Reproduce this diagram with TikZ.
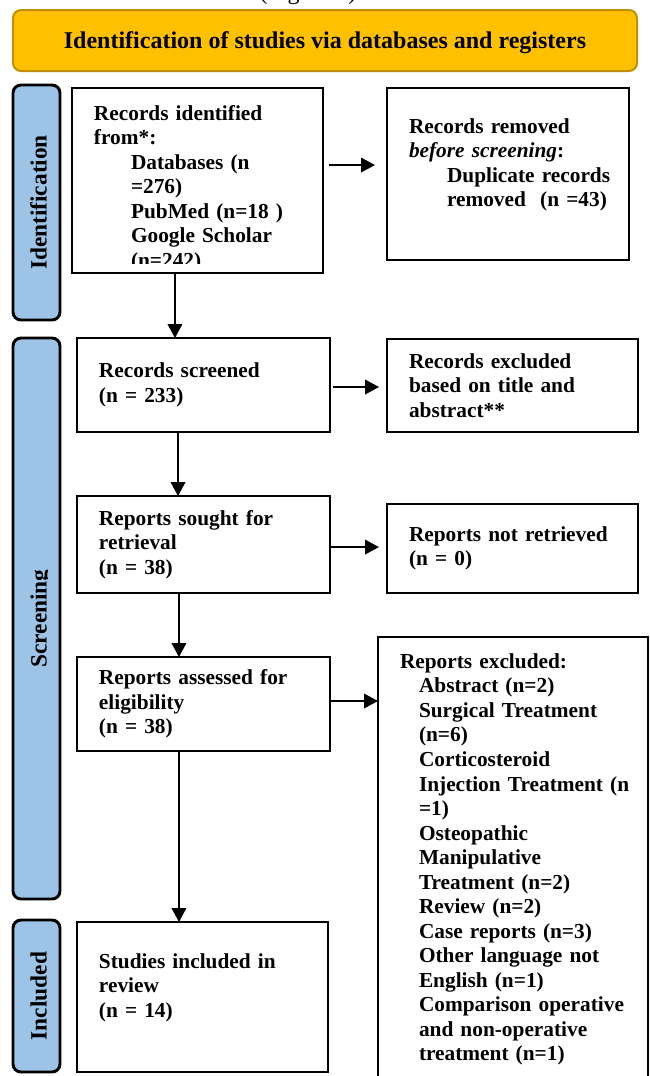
\documentclass[tikz,border=0pt]{standalone}
\usepackage{fontspec}
\setmainfont{Liberation Serif}
\usetikzlibrary{arrows.meta}
\definecolor{titlegold}{HTML}{FFC000}
\definecolor{titleedge}{HTML}{BF9000}
\definecolor{barblue}{HTML}{9DC3E6}

\begin{document}
\begin{tikzpicture}[x=0.75pt, y=0.75pt,
    flowbox/.style={draw, line width=2.2pt, inner xsep=0pt, outer sep=0pt,
      font={\fontsize{16}{18.4}\selectfont\bfseries},
      execute at begin node={\leftskip=16.5pt\rightskip=-25pt plus 1fil\parfillskip=0pt plus 1fil\relax}},
    sidebar/.style={draw, fill=barblue, line width=2.2pt, rounded corners=6pt,
      minimum width=35.25pt, inner sep=0pt, outer sep=0pt},
    sidetext/.style={rotate=90, anchor=base, inner sep=0pt,
      font={\fontsize{17.5}{21}\selectfont\bfseries}},
    flowarrow/.style={line width=1.1pt, -{Triangle[width=11pt,length=10.5pt]}}]
    \useasboundingbox (0,0) rectangle (650,-1076);

    \node[anchor=base, inner sep=0pt, font={\fontsize{18}{21}\selectfont}] (figref) at (308,1) {(Figure 1)};
    \node[draw=titleedge, fill=titlegold, line width=1.5pt, rounded corners=6pt,
      minimum width=468pt, minimum height=45.75pt, text depth=0pt,
      font={\fontsize{18}{21}\selectfont\bfseries}] (title) at (325,-40.5)
      {Identification of studies via databases and registers};

    \node[sidebar, minimum height=176.25pt] (identbar) at (36.5,-202.5) {};
    \node[sidetext] (identtxt) at ([xshift=7.5pt]identbar.center) {Identification};
    \node[sidebar, minimum height=420.75pt] (screenbar) at (36.5,-618.5) {};
    \begin{scope}
      \clip (screenbar.north west) rectangle ([xshift=-9.5pt]screenbar.south east);
      \node[sidetext] (screentxt) at ([xshift=7.5pt]screenbar.center) {Screening};
    \end{scope}
    \node[sidebar, minimum height=114pt] (inclbar) at (36.5,-996) {};
    \node[sidetext] (incltxt) at ([xshift=7.5pt]inclbar.center) {Included};

    \begin{scope}
      \clip (0,0) rectangle (650,-263);
      \node[flowbox, draw=none, text width=188.25pt, minimum height=138.75pt] (recid) at (197.5,-180.5)
        {Records identified\\from*:\par\leftskip=44.25pt Databases (n\\=276)\\PubMed (n=18 )\\Google Scholar\\(n=242)\par\kern-12pt};
    \end{scope}
    \draw[line width=2.2pt] (recid.south west) rectangle (recid.north east);
    \node[flowbox, text width=181.5pt, minimum height=129pt] (recrem) at (508,-174)
      {Records removed\\\textit{before screening}:\par\leftskip=45pt Duplicate records\\removed\ \ (n =43)\par\kern13.5pt};

    \node[flowbox, text width=189.75pt, minimum height=70.5pt] (recscr) at (203.5,-385)
      {Records screened\\(n = 233)};
    \node[flowbox, text width=188.25pt, minimum height=69.75pt] (recexc) at (512.5,-385.5)
      {Records excluded\\based on title and\\abstract**};

    \node[flowbox, text width=189.75pt, minimum height=72.75pt] (repsou) at (203.5,-544.5)
      {Reports sought for\\retrieval\\(n = 38)};
    \node[flowbox, text width=188.25pt, minimum height=66.75pt] (repnot) at (512.5,-548.5)
      {Reports not retrieved\\(n = 0)};

    \node[flowbox, text width=189.75pt, minimum height=70.5pt] (repass) at (203.5,-704)
      {Reports assessed for\\eligibility\\(n = 38)};
    \node[flowbox, text width=202.5pt, minimum height=333.75pt] (repexc) at (513,-859.5)
      {Reports excluded:\par\leftskip=30.75pt Abstract (n=2)\\Surgical Treatment\\(n=6)\\Corticosteroid\\Injection Treatment (n\\=1)\\Osteopathic\\Manipulative\\Treatment (n=2)\\Review (n=2)\\Case reports (n=3)\\Other language not\\English (n=1)\\Comparison operative\\and non-operative\\treatment (n=1)\par};

    \node[flowbox, text width=188.25pt, minimum height=112.5pt] (incl) at (202.5,-997)
      {Studies included in\\review\\(n = 14)\par\kern14pt};

    \draw[flowarrow, shorten <=4.5pt, shorten >=9pt] ([yshift=11.6pt]recid.east) -- ([yshift=11.6pt]recid.east -| recrem.west);
    \draw[flowarrow] ([xshift=-16.9pt]recid.south) -- ([xshift=-16.9pt]recid.south |- recscr.north);
    \draw[flowarrow, shorten <=2pt, shorten >=6pt] ([yshift=-1.5pt]recscr.east) -- ([yshift=-1.5pt]recscr.east -| recexc.west);
    \draw[flowarrow] ([xshift=-19.1pt]recscr.south) -- ([xshift=-19.1pt]recscr.south |- repsou.north);
    \draw[flowarrow, shorten >=6pt] ([yshift=-1.9pt]repsou.east) -- ([yshift=-1.9pt]repsou.east -| repnot.west);
    \draw[flowarrow] ([xshift=-18.4pt]repsou.south) -- ([xshift=-18.4pt]repsou.south |- repass.north);
    \draw[flowarrow] ([yshift=2.25pt]repass.east) -- ([yshift=2.25pt]repass.east -| repexc.west);
    \draw[flowarrow] ([xshift=-18.4pt]repass.south) -- ([xshift=-18.4pt]repass.south |- incl.north);
\end{tikzpicture}
\end{document}
